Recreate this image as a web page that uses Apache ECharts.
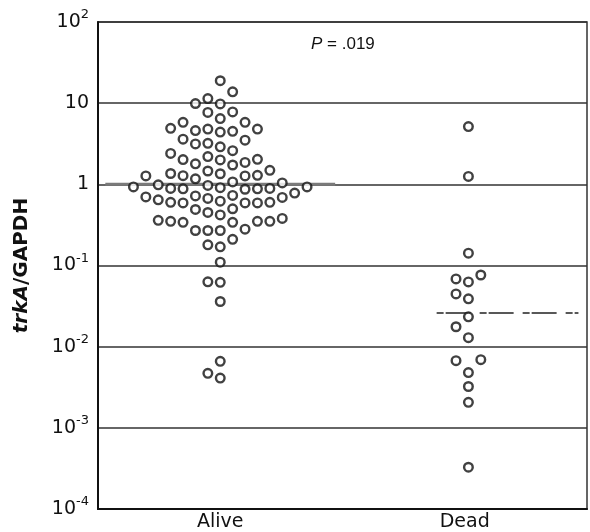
<!DOCTYPE html>
<html><head><meta charset="utf-8">
<script src="https://cdn.jsdelivr.net/npm/echarts@6/dist/echarts.min.js"></script>
<style>html,body{margin:0;padding:0;background:#fff}#c{width:590px;height:532px}</style>
</head><body><div id="c"></div>
<script>
// ---- data ----
const categories = ['Alive', 'Dead'];
const aliveValues = [18.9, 13.8, 11.4, 9.9, 9.8, 7.8, 7.7, 6.45, 5.8, 5.8,
  4.5, 4.8, 4.8, 4.9, 4.4, 4.6, 3.6, 3.2, 3.15, 3.5, 2.9,
  2.6, 2.2, 2.03, 2.02, 2.0, 2.4,
  1.79, 1.49, 1.36, 1.29, 1.28, 1.27, 1.27, 1.35, 1.46, 1.73, 1.86,
  1.04, 0.97, 0.93, 0.91, 0.89, 0.88, 0.88, 0.87, 0.89, 0.93, 0.985, 1.07, 1.17,
  0.72, 0.70, 0.67, 0.62, 0.60, 0.59, 0.59, 0.59, 0.60, 0.645, 0.69, 0.73, 0.78,
  0.50, 0.42, 0.38, 0.35, 0.35, 0.34, 0.34, 0.35, 0.36, 0.45, 0.49,
  0.27, 0.27, 0.27, 0.28, 0.17, 0.18, 0.21,
  0.11, 0.063, 0.062, 0.036, 0.0066, 0.0047, 0.0041];
const deadValues = [5.15, 1.25, 0.142, 0.0764, 0.0683, 0.0628, 0.0447, 0.0388,
  0.0233, 0.0176, 0.0129, 0.00692, 0.00673, 0.0048, 0.00323, 0.00206, 0.000327];
const medians = [1.0, 0.026];
const yTickValues = [1e-4, 1e-3, 1e-2, 1e-1, 1, 10, 100];
const pValue = '.019';

// ---- chart ----
const FONT = 'DejaVu Sans, sans-serif';
const chart = echarts.init(document.getElementById('c'), null, {renderer: 'canvas'});

function tickLabel(v) {
  const e = Math.round(Math.log10(v));
  if (e === 0) return '{n|1}';
  if (e === 1) return '{n|10}';
  return '{n|10}{s|' + e + '}';
}

const baseOption = {
  animation: false,
  backgroundColor: '#fff',
  grid: {left: 98, right: 3, top: 22, bottom: 21, show: true, borderColor: '#333', borderWidth: 1.5, backgroundColor: 'transparent'},
  xAxis: [
    {type: 'category', data: categories, boundaryGap: true,
     axisLine: {lineStyle: {color: '#111', width: 2}},
     axisTick: {inside: true, length: 7, lineStyle: {color: '#111', width: 1.5}},
     axisLabel: {color: '#111', fontFamily: FONT, fontSize: 19, margin: 4},
     splitLine: {show: false}},
    {type: 'value', min: 0, max: 2, show: false}
  ],
  yAxis: {
    type: 'log', logBase: 10, min: yTickValues[0], max: yTickValues[yTickValues.length - 1], splitNumber: 6,
    axisLine: {show: true, lineStyle: {color: '#111', width: 2}},
    axisTick: {show: false},
    splitLine: {show: true, lineStyle: {color: '#333', width: 1.5}},
    axisLabel: {
      margin: 9, color: '#111', formatter: tickLabel,
      rich: {
        n: {fontFamily: FONT, fontSize: 19, color: '#111'},
        s: {fontFamily: FONT, fontSize: 13, color: '#111', padding: [0, 0, 14, 0]}
      }
    },
    name: '{i|trkA}{b|/GAPDH}', nameLocation: 'middle', nameRotate: 90, nameGap: 66,
    nameTextStyle: {
      rich: {
        i: {fontFamily: FONT, fontSize: 20, fontWeight: 'bold', fontStyle: 'italic', color: '#111'},
        b: {fontFamily: FONT, fontSize: 20, fontWeight: 'bold', color: '#111'}
      }
    }
  },
  graphic: [{
    type: 'text', left: 311, top: 36,
    style: {
      text: '{i|P} = ' + pValue, fill: '#111',
      font: '17px Liberation Sans, Arial, sans-serif',
      rich: {i: {fontStyle: 'italic', fontFamily: 'Liberation Sans, Arial, sans-serif', fontSize: 17, fill: '#111'}}
    }
  }],
  series: []
};
chart.setOption(baseOption);

// dot-plot layout through the library's scales: stack dots in columns, bottom first
const COL_PX = 12.4, MIN_GAP = 13;
const x0 = chart.convertToPixel({xAxisIndex: 1}, 0);
const x2 = chart.convertToPixel({xAxisIndex: 1}, 2);
const colUnit = COL_PX * 2 / (x2 - x0);
function swarm(values, center) {
  const pts = values.map(v => ({v, py: chart.convertToPixel({yAxisIndex: 0}, v)}))
    .sort((a, b) => b.py - a.py);
  const cols = {};
  const out = [];
  for (const d of pts) {
    for (let k = 0; k < 60; k++) {
      const c = k === 0 ? 0 : (k % 2 ? -Math.ceil(k / 2) : k / 2);
      const list = cols[c] || (cols[c] = []);
      if (list.every(y => Math.abs(y - d.py) >= MIN_GAP)) {
        list.push(d.py);
        out.push([center + c * colUnit, d.v]);
        break;
      }
    }
  }
  return out;
}

const dotStyle = {color: '#fff', borderColor: '#111', borderWidth: 2.4};
const groups = [aliveValues, deadValues];
const centers = [0.5, 1.515];
const series = [];
// medians
series.push({type: 'line', xAxisIndex: 1, yAxisIndex: 0, symbol: 'none', silent: true, z: 1,
  data: [[0.03, medians[0]], [0.97, medians[0]]],
  lineStyle: {color: '#7a7a7a', width: 3}});
series.push({type: 'line', xAxisIndex: 1, yAxisIndex: 0, symbol: 'none', silent: true, z: 1,
  data: [[1.385, medians[1]], [1.965, medians[1]]],
  lineStyle: {color: '#222', width: 1.6, type: [7, 2, 25, 9]}});
groups.forEach((vals, i) => {
  series.push({type: 'scatter', name: categories[i], xAxisIndex: 1, yAxisIndex: 0, z: 3,
    symbol: 'circle', symbolSize: 8.6, itemStyle: dotStyle,
    data: swarm(vals, centers[i])});
});
chart.setOption({series});
</script>
</body></html>
